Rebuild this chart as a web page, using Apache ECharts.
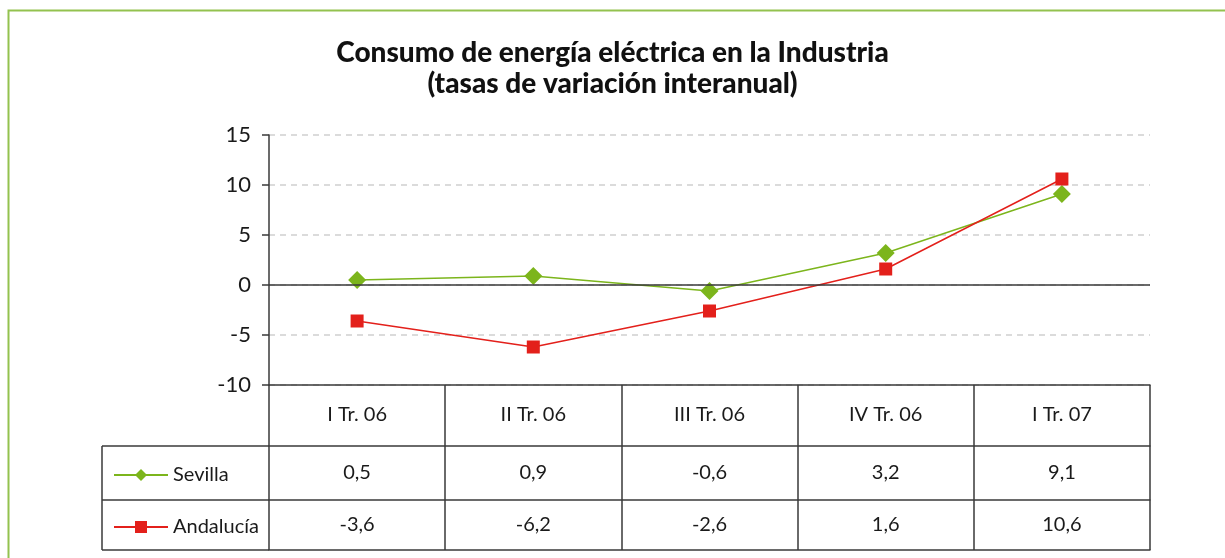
<!DOCTYPE html>
<html>
<head>
<meta charset="utf-8">
<script src="https://cdn.jsdelivr.net/npm/echarts@6/dist/echarts.min.js"></script>
<style>
html,body{margin:0;padding:0;background:#fff;}
#c{width:1225px;height:558px;}
</style>
</head>
<body>
<div id="c"></div>
<script>
const categories = ['I Tr. 06', 'II Tr. 06', 'III Tr. 06', 'IV Tr. 06', 'I Tr. 07'];
const sevilla = [0.5, 0.9, -0.6, 3.2, 9.1];
const andalucia = [-3.6, -6.2, -2.6, 1.6, 10.6];
const yTicks = { min: -10, max: 15, interval: 5 };
const titleLines = ['Consumo de energía eléctrica en la Industria', '(tasas de variación interanual)'];

const FONT = 'Lato, "Open Sans", sans-serif';
const GREEN = '#7cb51c';
const RED = '#e3201b';
const LINE = '#3a3a3a';
const fmt = v => v.toFixed(1).replace('.', ',');

const chart = echarts.init(document.getElementById('c'), null, { renderer: 'canvas' });

function rowAxis(offset, tickLen, margin, fontSize, formatter, showLabel) {
  return {
    type: 'category', data: categories, position: 'bottom', offset: offset,
    boundaryGap: true,
    axisLine: { show: true, onZero: false, lineStyle: { color: LINE, width: 1.5 } },
    axisTick: { show: tickLen > 0, inside: false, length: tickLen, lineStyle: { color: LINE, width: 1.5 } },
    axisLabel: { show: showLabel, margin: margin, color: '#1a1a1a', fontSize: fontSize, fontFamily: FONT, formatter: formatter },
    splitLine: { show: false }
  };
}

const option = {
  animation: false,
  backgroundColor: '#fff',
  title: {
    text: titleLines.join('\n'),
    left: 'center', top: 32,
    textStyle: { fontFamily: FONT, fontWeight: 900, fontSize: 28, color: '#111', lineHeight: 31 }
  },
  legend: {
    orient: 'vertical', left: 108, top: 460,
    itemWidth: 54, itemHeight: 15, itemGap: 32,
    textStyle: { fontFamily: FONT, fontSize: 20, color: '#1a1a1a' },
    data: ['Sevilla', 'Andalucía']
  },
  grid: { left: 269, right: 75, top: 135, bottom: 173, containLabel: false },
  xAxis: [
    rowAxis(0, 61, 20, 20, v => v, true),
    rowAxis(61, 54, 17, 20, (v, i) => fmt(sevilla[i]), true),
    rowAxis(115, 50, 15, 20, (v, i) => fmt(andalucia[i]), true),
    rowAxis(165, 0, 0, 20, v => '', false)
  ],
  yAxis: {
    type: 'value', min: yTicks.min, max: yTicks.max, interval: yTicks.interval,
    axisLine: { show: true, lineStyle: { color: LINE, width: 1.5 } },
    axisTick: { show: true, length: 7, lineStyle: { color: LINE, width: 1.5 } },
    axisLabel: { color: '#1a1a1a', fontSize: 22, fontFamily: FONT, margin: 18 },
    splitLine: { show: true, lineStyle: { color: '#cfcfcf', type: [6, 5], width: 1.5 } }
  },
  series: [
    {
      name: 'Sevilla', type: 'line', data: sevilla, xAxisIndex: 0,
      symbol: 'diamond', symbolSize: 18,
      itemStyle: { color: GREEN }, lineStyle: { color: GREEN, width: 1.5 },
      markLine: {
        silent: true, symbol: 'none', label: { show: false },
        lineStyle: { color: LINE, type: 'solid', width: 1.5 },
        data: [{ yAxis: 0 }]
      }
    },
    {
      name: 'Andalucía', type: 'line', data: andalucia, xAxisIndex: 0,
      symbol: 'rect', symbolSize: 13,
      itemStyle: { color: RED }, lineStyle: { color: RED, width: 1.5 }
    }
  ],
  graphic: [
    { type: 'rect', shape: { x: 8.5, y: 10.5, width: 1400, height: 700 }, style: { fill: 'none', stroke: '#93c24f', lineWidth: 2 }, silent: true },
    { type: 'line', shape: { x1: 102, y1: 446, x2: 269, y2: 446 }, style: { stroke: LINE, lineWidth: 1.5 } },
    { type: 'line', shape: { x1: 102, y1: 500, x2: 269, y2: 500 }, style: { stroke: LINE, lineWidth: 1.5 } },
    { type: 'line', shape: { x1: 102, y1: 550, x2: 269, y2: 550 }, style: { stroke: LINE, lineWidth: 1.5 } },
    { type: 'line', shape: { x1: 102, y1: 446, x2: 102, y2: 550 }, style: { stroke: LINE, lineWidth: 1.5 } }
  ]
};
chart.setOption(option);
</script>
</body>
</html>
